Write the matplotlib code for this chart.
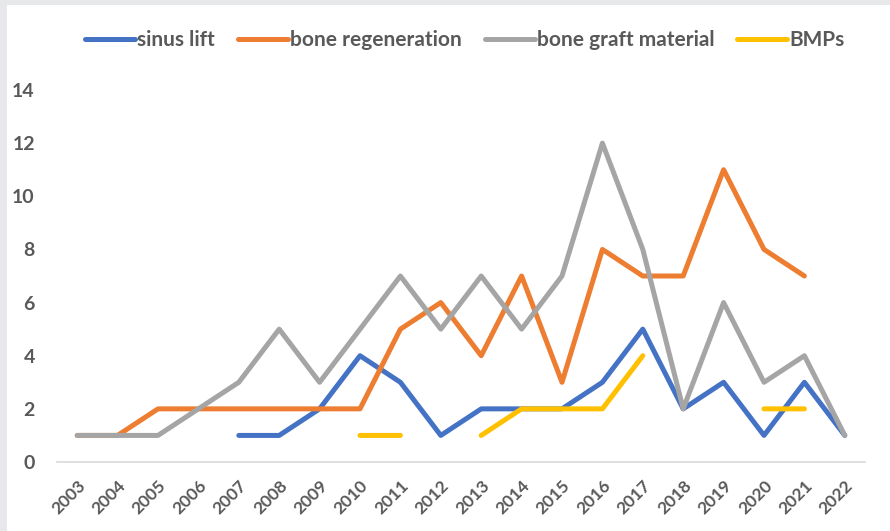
import matplotlib.pyplot as plt
import matplotlib.patches as mpatches
import numpy as np

nan = np.nan
years = [str(y) for y in range(2003, 2023)]
sinus_lift = [nan, nan, nan, nan, 1, 1, 2, 4, 3, 1, 2, 2, 2, 3, 5, 2, 3, 1, 3, 1]
bone_regeneration = [1, 1, 2, 2, 2, 2, 2, 2, 5, 6, 4, 7, 3, 8, 7, 7, 11, 8, 7, nan]
bone_graft_material = [1, 1, 1, 2, 3, 5, 3, 5, 7, 5, 7, 5, 7, 12, 8, 2, 6, 3, 4, 1]
bmps = [nan, nan, nan, nan, nan, nan, nan, 1, 1, nan, 1, 2, 2, 2, 4, nan, nan, 2, 2, nan]

series = [
    ("sinus lift", sinus_lift, "#4472C4"),
    ("bone regeneration", bone_regeneration, "#ED7D31"),
    ("bone graft material", bone_graft_material, "#A5A5A5"),
    ("BMPs", bmps, "#FFC000"),
]

plt.rcParams["font.family"] = ["Lato", "DejaVu Sans"]
plt.rcParams["font.weight"] = "bold"
text_color = "#595959"

fig = plt.figure(figsize=(8.9, 5.31), dpi=100)
fig.patch.set_facecolor("#E7E8EA")
fig.patches.append(mpatches.Rectangle((7 / 890, 0), 1, 1 - 5 / 531,
                                      transform=fig.transFigure,
                                      facecolor="white", edgecolor="none", zorder=-5))

ax = fig.add_axes([57 / 890, 1 - 462 / 531, 808 / 890, 372 / 531])
ax.set_facecolor("none")
x = np.arange(len(years))
for name, vals, color in series:
    ax.plot(x, vals, color=color, lw=3.6, label=name,
            solid_capstyle="round", solid_joinstyle="round")

ax.set_xlim(-0.5, len(years) - 0.5)
ax.set_ylim(0, 14)
ax.set_yticks(range(0, 15, 2))
ax.set_xticks(x)
ax.set_xticklabels(years, rotation=45, ha="right", rotation_mode="anchor")
ax.tick_params(axis="both", length=0, colors=text_color)
ax.tick_params(axis="y", labelsize=14, pad=16)
ax.tick_params(axis="x", labelsize=12.5, pad=11)
for s in ["top", "right", "left"]:
    ax.spines[s].set_visible(False)
ax.spines["bottom"].set_color("#D9D9D9")
ax.spines["bottom"].set_linewidth(1.2)

leg = fig.legend(loc="center", bbox_to_anchor=(465 / 890, 1 - 40 / 531), ncol=4,
                 frameon=False, fontsize=15, handlelength=2.4, handletextpad=0.1,
                 columnspacing=1.1)
for t in leg.get_texts():
    t.set_color(text_color)

fig.savefig("out.png", dpi=100, facecolor=fig.get_facecolor())
